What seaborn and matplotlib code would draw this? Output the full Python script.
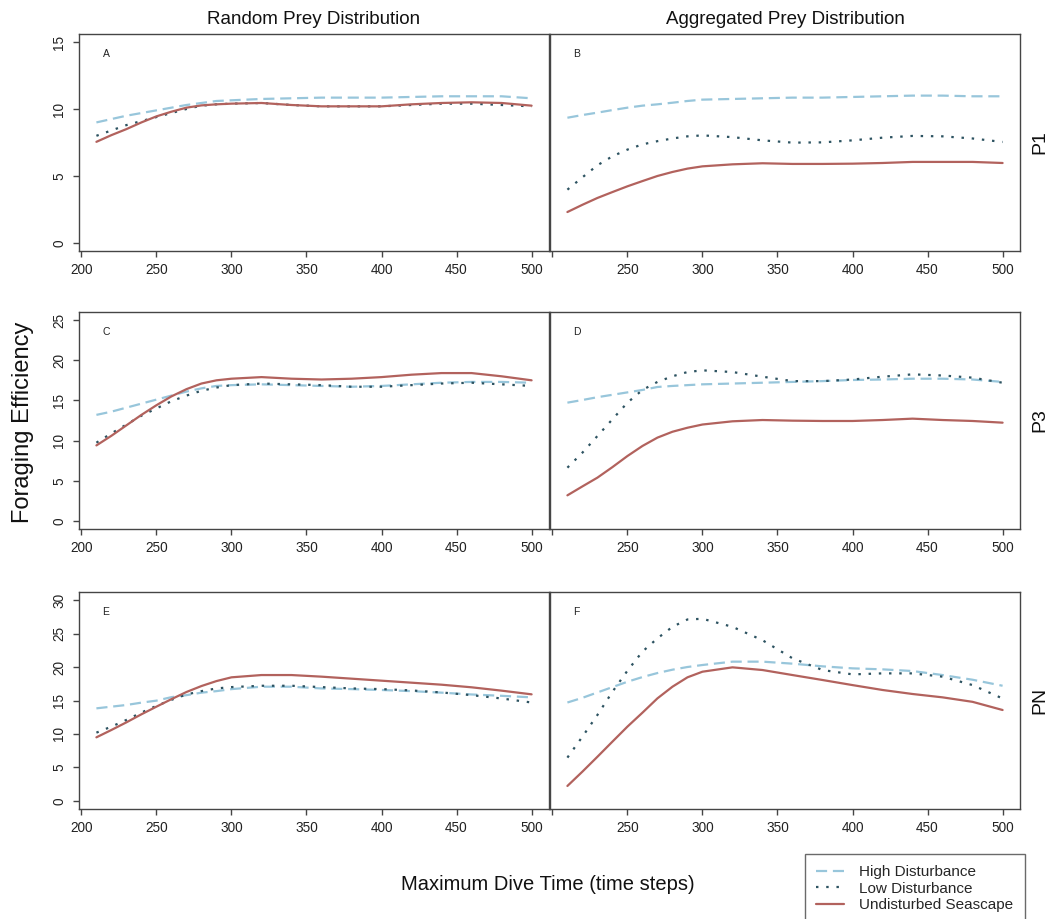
import pandas as pd
import seaborn as sns
import matplotlib.pyplot as plt
from matplotlib.lines import Line2D

# x grid (maximum dive time, time steps)
dive_time = [210, 220, 230, 240, 250, 260, 270, 280, 290, 300,
             320, 340, 360, 380, 400, 420, 440, 460, 480, 500]

# P1, random prey (A)
a_high = [9.0, 9.25, 9.5, 9.7, 9.9, 10.1, 10.3, 10.45, 10.6, 10.65,
          10.75, 10.8, 10.85, 10.85, 10.85, 10.9, 10.95, 10.95, 10.95, 10.8]
a_low = [8.0, 8.4, 8.8, 9.1, 9.4, 9.7, 10.0, 10.25, 10.35, 10.4,
         10.45, 10.3, 10.2, 10.2, 10.2, 10.3, 10.4, 10.4, 10.3, 10.2]
a_undist = [7.55, 8.05, 8.5, 9.0, 9.45, 9.8, 10.1, 10.27, 10.35, 10.4,
            10.45, 10.3, 10.2, 10.2, 10.2, 10.35, 10.45, 10.5, 10.45, 10.25]
# P1, aggregated prey (B)
b_high = [9.35, 9.55, 9.73, 9.92, 10.1, 10.25, 10.35, 10.47, 10.6, 10.7,
          10.75, 10.8, 10.85, 10.85, 10.9, 10.95, 11.0, 11.0, 10.95, 10.95]
b_low = [3.98, 4.9, 5.8, 6.47, 6.97, 7.36, 7.6, 7.8, 7.96, 8.03,
         7.9, 7.66, 7.49, 7.51, 7.66, 7.86, 7.99, 7.96, 7.8, 7.54]
b_undist = [2.31, 2.85, 3.36, 3.8, 4.23, 4.62, 5.0, 5.3, 5.55, 5.72,
            5.87, 5.95, 5.9, 5.9, 5.92, 5.97, 6.05, 6.05, 6.05, 5.97]
# P3, random prey (C)
c_high = [13.2, 13.6, 14.1, 14.6, 15.1, 15.6, 16.1, 16.5, 16.8, 16.9,
          17.0, 16.9, 16.8, 16.7, 16.8, 17.0, 17.2, 17.3, 17.3, 17.2]
c_low = [9.74, 10.9, 12.0, 13.1, 14.0, 14.9, 15.6, 16.2, 16.6, 16.9,
         17.1, 17.0, 16.9, 16.7, 16.7, 16.9, 17.1, 17.2, 17.0, 16.8]
c_undist = [9.4, 10.6, 11.9, 13.2, 14.4, 15.5, 16.4, 17.1, 17.5, 17.7,
            17.9, 17.7, 17.6, 17.7, 17.9, 18.2, 18.4, 18.4, 18.0, 17.5]
# P3, aggregated prey (D)
d_high = [14.72, 15.05, 15.4, 15.7, 16.0, 16.3, 16.67, 16.8, 16.9, 17.0,
          17.1, 17.2, 17.3, 17.4, 17.54, 17.6, 17.7, 17.7, 17.6, 17.3]
d_low = [6.63, 8.5, 10.57, 12.65, 14.72, 16.3, 17.3, 18.0, 18.53, 18.74,
         18.53, 17.95, 17.4, 17.4, 17.6, 17.95, 18.24, 18.1, 17.83, 17.2]
d_undist = [3.19, 4.3, 5.39, 6.7, 8.08, 9.33, 10.37, 11.1, 11.6, 12.0,
            12.4, 12.56, 12.48, 12.44, 12.44, 12.56, 12.73, 12.56, 12.44, 12.23]
# PN, random prey (E)
e_high = [13.83, 14.08, 14.33, 14.68, 14.98, 15.5, 15.8, 16.17, 16.4, 16.7,
          17.06, 17.06, 16.8, 16.7, 16.57, 16.4, 16.17, 15.9, 15.7, 15.47]
e_low = [10.2, 11.1, 12.1, 13.2, 14.2, 15.1, 15.9, 16.4, 16.8, 17.0,
         17.2, 17.2, 17.0, 16.8, 16.7, 16.5, 16.2, 15.8, 15.3, 14.7]
e_undist = [9.5, 10.6, 11.74, 12.94, 14.08, 15.2, 16.27, 17.16, 17.9, 18.46,
            18.8, 18.8, 18.56, 18.26, 17.96, 17.66, 17.36, 16.97, 16.47, 15.92]
# PN, aggregated prey (F)
f_high = [14.7, 15.4, 16.2, 17.0, 17.8, 18.5, 19.1, 19.6, 20.0, 20.3,
          20.8, 20.8, 20.5, 20.1, 19.8, 19.65, 19.4, 18.8, 18.1, 17.2]
f_low = [6.47, 9.6, 12.84, 16.3, 19.45, 22.3, 24.28, 26.0, 27.1, 27.2,
         26.0, 24.0, 21.3, 19.55, 18.9, 19.05, 19.05, 18.56, 17.3, 15.3]
f_undist = [2.24, 4.38, 6.6, 8.86, 11.1, 13.18, 15.32, 17.06, 18.46, 19.3,
            19.95, 19.55, 18.8, 18.06, 17.3, 16.57, 15.97, 15.47, 14.8, 13.58]

scenarios = ["High Disturbance", "Low Disturbance", "Undisturbed Seascape"]
panels = [
    ("A", a_high, a_low, a_undist), ("B", b_high, b_low, b_undist),
    ("C", c_high, c_low, c_undist), ("D", d_high, d_low, d_undist),
    ("E", e_high, e_low, e_undist), ("F", f_high, f_low, f_undist),
]
row_labels = ["P1", "P3", "PN"]
y_max = [15, 25, 30]
col_titles = ["Random Prey Distribution", "Aggregated Prey Distribution"]

sns.set_theme(style="ticks")
plt.rcParams['font.family'] = ['Liberation Sans', 'DejaVu Sans']

palette = {"High Disturbance": "#98c6db",
           "Low Disturbance": "#2d5361",
           "Undisturbed Seascape": "#b2625d"}
dashes = {"High Disturbance": (5, 2.6),
          "Low Disturbance": (1.1, 3.5),
          "Undisturbed Seascape": ""}
edge = "#454545"

fig = plt.figure(figsize=(10.6, 9.19), dpi=100)
W, H = 1060, 919
lefts = [79 / W, 550 / W]
bottoms = [1 - 251 / H, 1 - 529 / H, 1 - 809 / H]
aw, ah = 470 / W, 217 / H

for i, (letter, high, low, undist) in enumerate(panels):
    r, c = divmod(i, 2)
    ax = fig.add_axes([lefts[c], bottoms[r], aw, ah])
    df = pd.DataFrame({
        "dive": dive_time * 3,
        "eff": high + low + undist,
        "scenario": [s for s in scenarios for _ in dive_time],
    })
    sns.lineplot(data=df, x="dive", y="eff", hue="scenario", style="scenario",
                 palette=palette, dashes=dashes, linewidth=1.6,
                 errorbar=None, legend=False, ax=ax)
    ym = y_max[r]
    ax.set_xlim(198.4, 511.6)
    ax.set_ylim(-0.04 * ym, ym * 1.04)
    ax.set(xlabel="", ylabel="")
    ax.set_xticks(range(200, 501, 50))
    xl = [str(v) for v in range(200, 501, 50)]
    if c == 1:
        xl[0] = ""
    ax.set_xticklabels(xl)
    ax.set_yticks(range(0, ym + 1, 5))
    ax.set_yticklabels([str(v) for v in range(0, ym + 1, 5)],
                       rotation=90, va="center")
    for sp in ax.spines.values():
        sp.set_visible(True)
        sp.set_color(edge)
        sp.set_linewidth(1.0)
    ax.tick_params(axis="both", direction="out", length=4, width=1,
                   color=edge, labelsize=9.8, labelcolor="#222222")
    ax.tick_params(axis="x", pad=5)
    ax.tick_params(axis="y", pad=5)
    if c == 1:
        ax.tick_params(axis="y", left=False, labelleft=False)
        fig.text(1040 / W, bottoms[r] + ah / 2, row_labels[r], rotation=90,
                 ha="center", va="center", fontsize=14, color="#111111")
    ax.text(0.05, 0.91, letter, transform=ax.transAxes, fontsize=7.5,
            ha="left", va="center", color="#222222")
    if r == 0:
        fig.text(lefts[c] + aw / 2, 1 - 20 / H, col_titles[c], ha="center",
                 va="center", fontsize=13.5, color="#111111")

fig.text(23 / W, 1 - 422 / H, "Foraging Efficiency", rotation=90,
         ha="center", va="center", fontsize=17, color="#111111")
fig.text(548 / W, 1 - 885 / H, "Maximum Dive Time (time steps)",
         ha="center", va="center", fontsize=14.5, color="#111111")

handles = [Line2D([], [], color=palette[s], lw=1.6,
                  dashes=dashes[s] if dashes[s] else (None, None))
           for s in scenarios]
handles[2].set_linestyle("-")
leg = fig.legend(handles, scenarios, loc="upper left",
                 bbox_to_anchor=(805 / W, 1 - 854 / H),
                 fontsize=11, frameon=True, fancybox=False,
                 handlelength=1.8, handletextpad=1.0, labelspacing=0.15,
                 borderpad=0.75, borderaxespad=0)
leg.get_frame().set_edgecolor(edge)
leg.get_frame().set_linewidth(1.0)

fig.savefig("out.png", dpi=100)
